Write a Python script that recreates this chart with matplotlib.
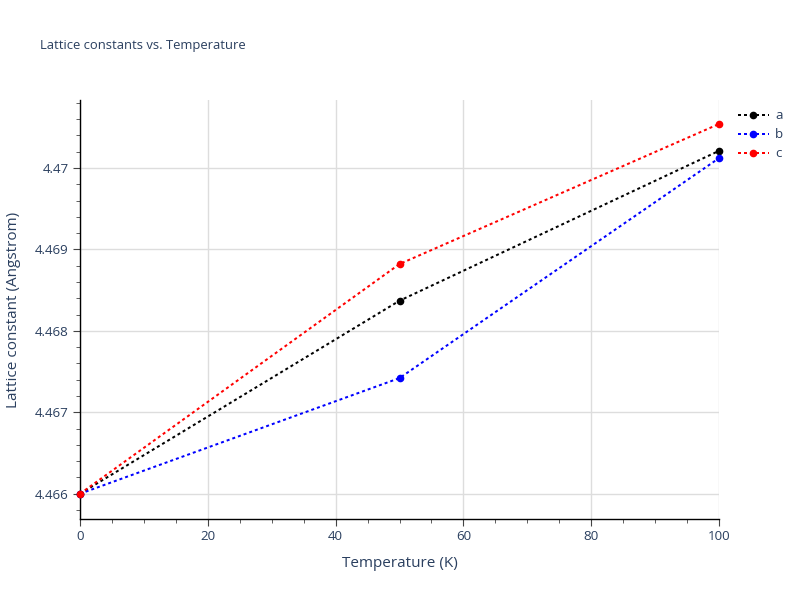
import numpy as np
import matplotlib.pyplot as plt
from matplotlib.ticker import MultipleLocator, FuncFormatter

# Data
temperature = [0, 50, 100]
lat_a = [4.4660, 4.46837, 4.47021]
lat_b = [4.4660, 4.46742, 4.47012]
lat_c = [4.4660, 4.46882, 4.47054]

series_names = ["a", "b", "c"]
series_colors = ["black", "blue", "red"]

text_color = "#2a3f5f"
plt.rcParams['font.family'] = ['Open Sans', 'DejaVu Sans']

fig = plt.figure(figsize=(8, 6), dpi=100)
ax = fig.add_axes([0.1, 0.135, 0.79875, 0.6983])

for vals, name, col in zip([lat_a, lat_b, lat_c], series_names, series_colors):
    ax.plot(temperature, vals, color=col, linestyle=(0, (1.5, 1.5)), linewidth=1.44,
            marker='o', markersize=4.5, label=name, clip_on=False, zorder=3)

ax.set_xlim(0, 100)
ax.set_ylim(4.46569, 4.470834)

ax.xaxis.set_major_locator(MultipleLocator(20))
ax.xaxis.set_minor_locator(MultipleLocator(5))
ax.yaxis.set_major_locator(MultipleLocator(0.001))
ax.yaxis.set_minor_locator(MultipleLocator(0.0002))
ax.yaxis.set_major_formatter(FuncFormatter(lambda v, p: f"{v:.3f}".rstrip('0').rstrip('.')))

ax.grid(True, which='major', color='#dddddd', linewidth=1, zorder=0)
ax.set_axisbelow(True)
for s in ['top', 'right']:
    ax.spines[s].set_visible(False)
for s in ['left', 'bottom']:
    ax.spines[s].set_color('black')
    ax.spines[s].set_linewidth(1)

ax.tick_params(which='major', direction='out', length=5, color='#444444',
               labelsize=9.6, labelcolor=text_color, pad=3)
ax.tick_params(which='minor', direction='out', length=3, color='#444444')

ax.set_xlabel("Temperature (K)", fontsize=11, color=text_color, labelpad=9)
ax.set_ylabel("Lattice constant (Angstrom)", fontsize=11, color=text_color, labelpad=10)
fig.text(0.05, 0.925, "Lattice constants vs. Temperature", fontsize=9.4,
         color=text_color, va='center', ha='left')

leg = ax.legend(loc='upper left', bbox_to_anchor=(1.015, 1.0), frameon=False,
                fontsize=9.6, labelcolor=text_color, handlelength=2.3,
                handletextpad=0.5, borderaxespad=0.3, labelspacing=0.45)

fig.savefig("out.png", dpi=100)
